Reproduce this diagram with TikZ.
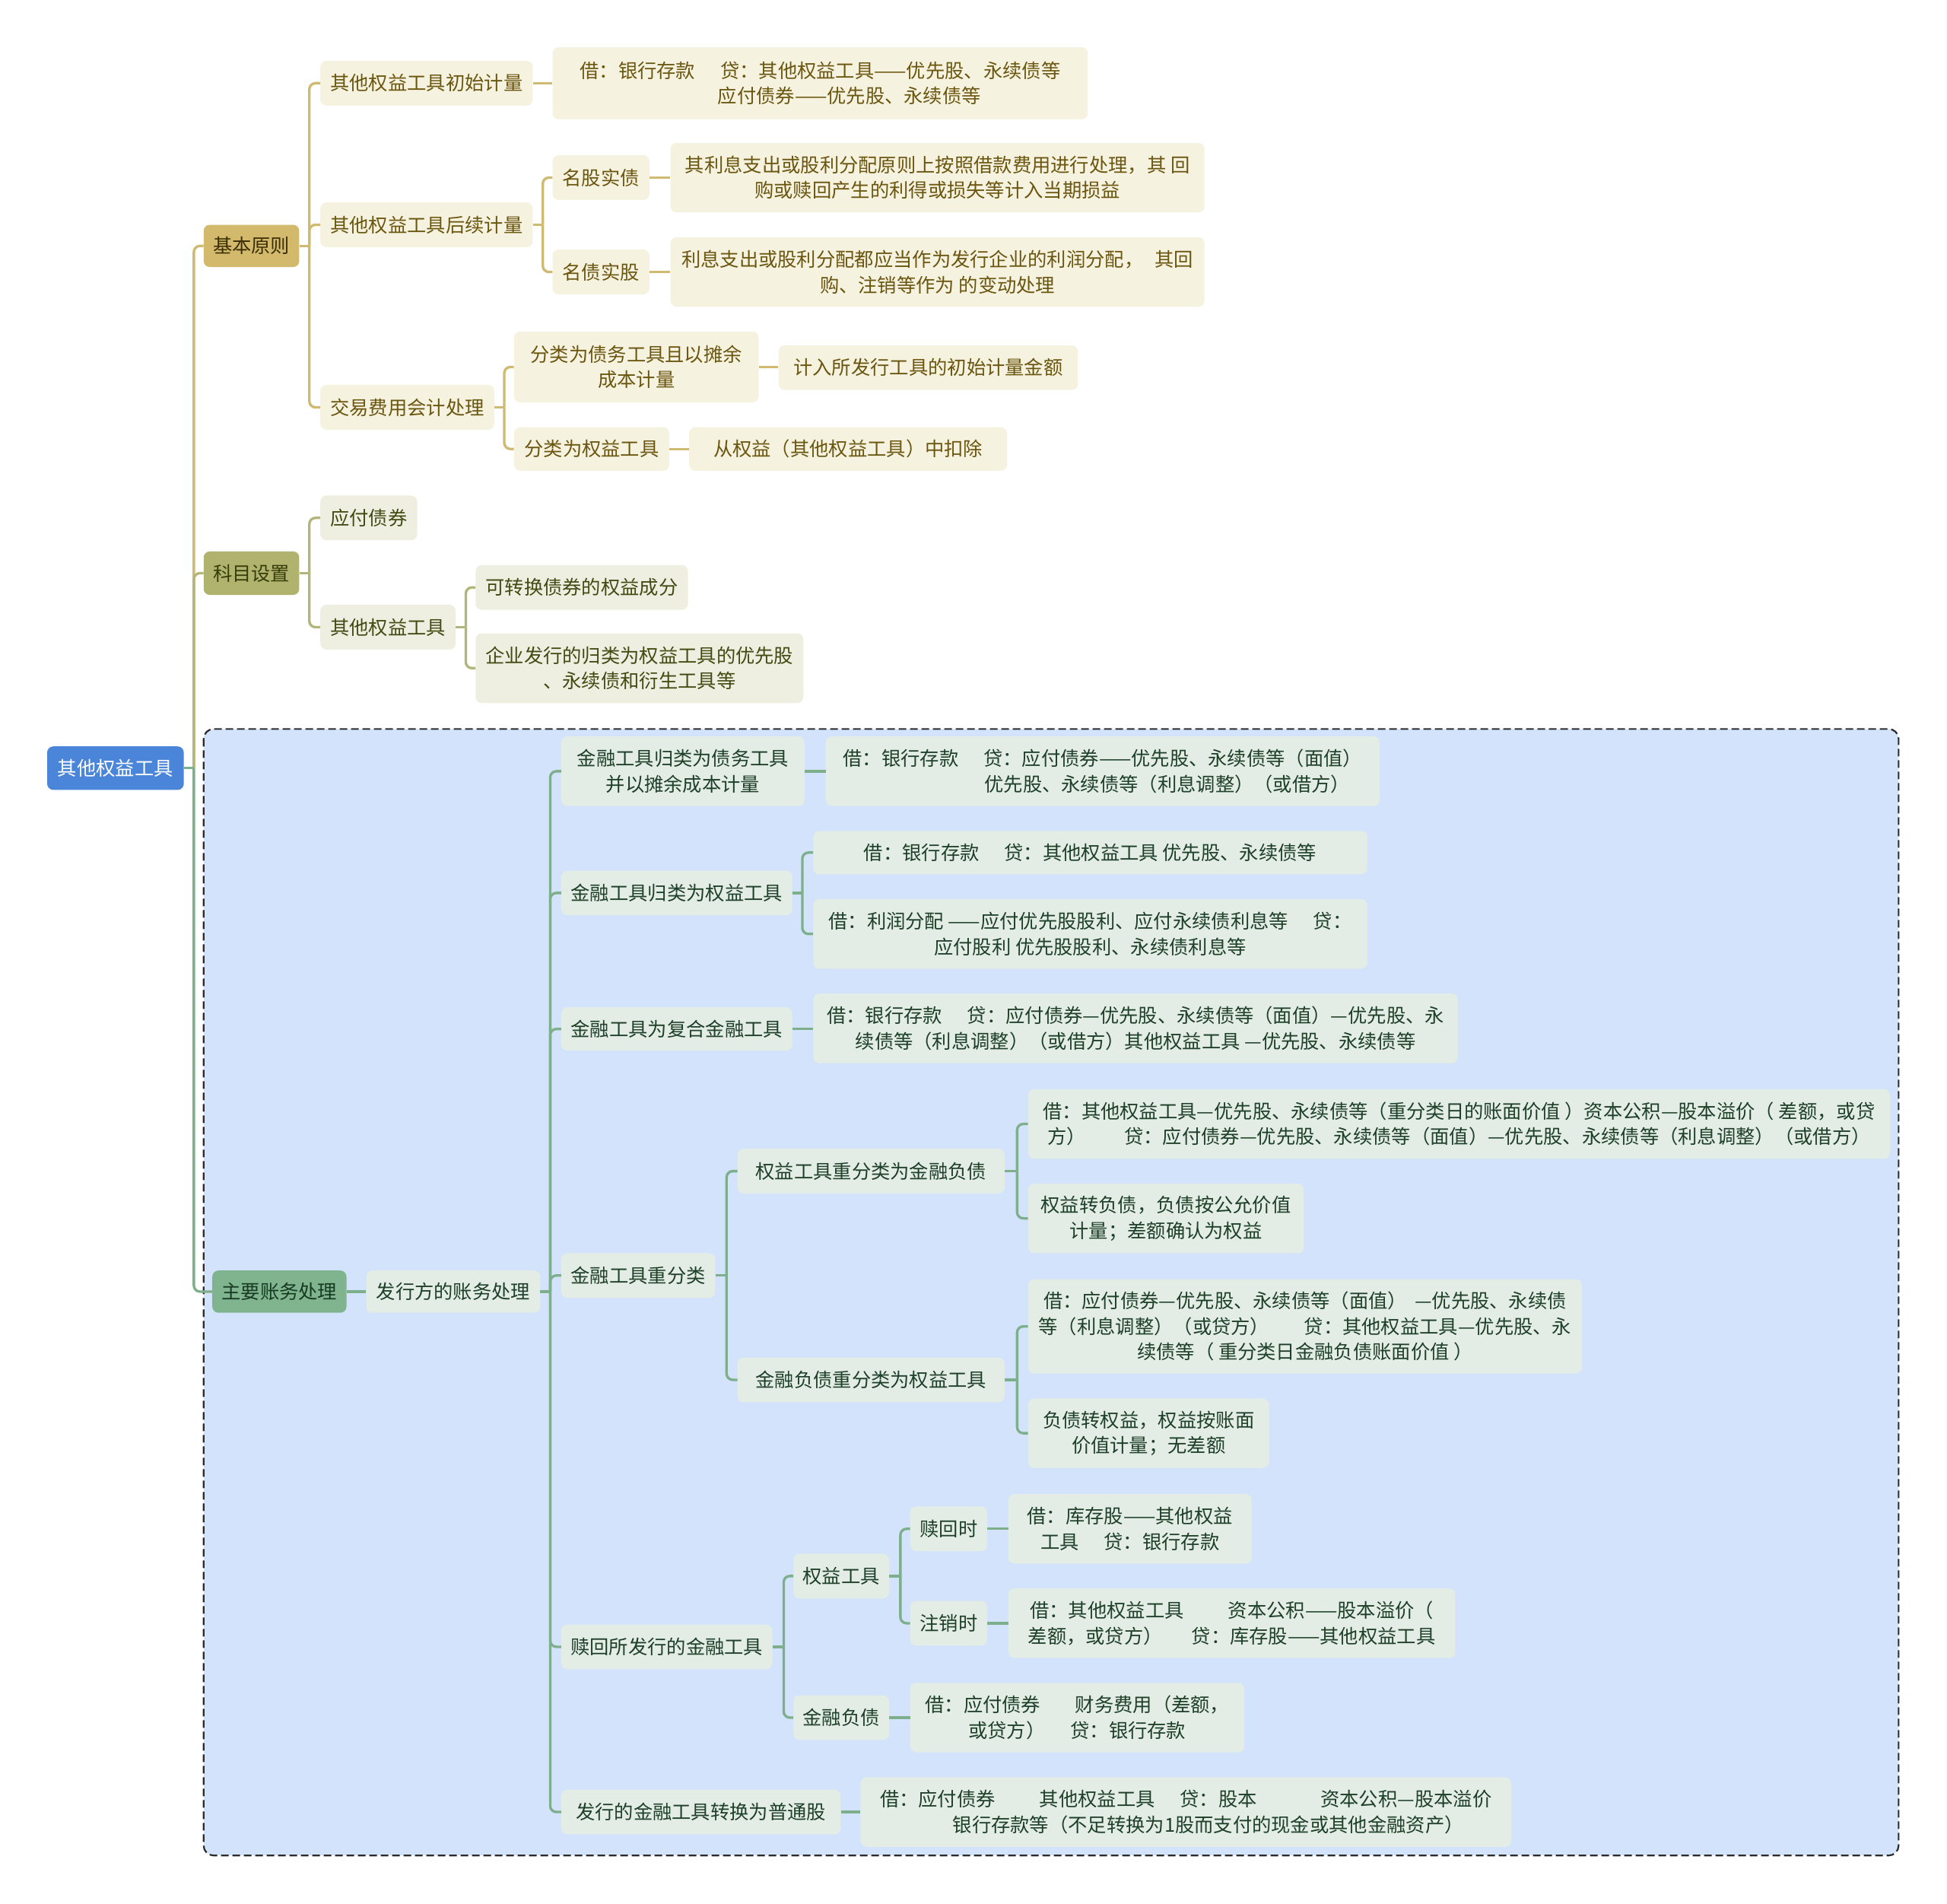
\documentclass[tikz,border=0pt]{standalone}
\usepackage{fontspec}
\setmainfont{Noto Sans CJK SC}
\definecolor{rootfill}{HTML}{4A85D9}
\definecolor{goldA}{HTML}{D3B96B}
\definecolor{goldAt}{HTML}{3A2E05}
\definecolor{goldB}{HTML}{F6F2E0}
\definecolor{goldBt}{HTML}{6A560F}
\definecolor{goldL}{HTML}{CFBA71}
\definecolor{oliveA}{HTML}{AFB36E}
\definecolor{oliveAt}{HTML}{363D08}
\definecolor{oliveB}{HTML}{EFEFE1}
\definecolor{oliveBt}{HTML}{434A12}
\definecolor{oliveL}{HTML}{B3B679}
\definecolor{greenA}{HTML}{7FB48F}
\definecolor{greenAt}{HTML}{173A22}
\definecolor{greenB}{HTML}{E3EDE6}
\definecolor{greenBt}{HTML}{1E3F28}
\definecolor{greenL}{HTML}{7DAF8D}
\definecolor{regionfill}{HTML}{D3E3FC}
\definecolor{regionline}{HTML}{2B2B2B}
\newcommand\mmfs{\fontsize{25.3pt}{33.5pt}\selectfont}
\newcommand\mmnode[7]{%
  \pgfmathsetmacro\mmcx{(#3+#5)/2}%
  \pgfmathsetmacro\mmcy{(#4+#6)/2}%
  \pgfmathsetmacro\mmw{(#5-#3)*1.6327}%
  \pgfmathsetmacro\mmh{(#6-#4)*1.6327}%
  \node[#2, minimum width=\mmw pt, minimum height=\mmh pt] (#1) at (\mmcx,\mmcy) {#7};%
}
\newcommand\mmstub[3]{\draw[#1] (#2.east) -- ++(#3,0);}
\newcommand\mmbranch[4]{\draw[#1] (#2.east) ++(#4,0) |- (#3.west);}
\newcommand\mmstraight[3]{\draw[#1] (#2.east) -- (#2.east -| #3.west);}
\tikzset{
  mmbase/.style={rounded corners=8pt, inner sep=0pt, align=center, font=\mmfs},
  rootst/.style={mmbase, fill=rootfill, text=white},
  goldone/.style={mmbase, fill=goldA, text=goldAt},
  goldtwo/.style={mmbase, fill=goldB, text=goldBt},
  oliveone/.style={mmbase, fill=oliveA, text=oliveAt},
  olivetwo/.style={mmbase, fill=oliveB, text=oliveBt},
  greenone/.style={mmbase, fill=greenA, text=greenAt},
  greentwo/.style={mmbase, fill=greenB, text=greenBt},
  goldln/.style={draw=goldL, line width=3.3pt, rounded corners=8pt},
  oliveln/.style={draw=oliveL, line width=3.3pt, rounded corners=8pt},
  greenln/.style={draw=greenL, line width=3.3pt, rounded corners=8pt},
}
\begin{document}
\begin{tikzpicture}[x=1.6327pt, y=-1.6327pt]
\fill[white] (0,0) rectangle (1568,1533);
\useasboundingbox (0,0) rectangle (1568,1533);
% dashed region
\draw[fill=regionfill, draw=regionline, line width=2.2pt, dash pattern=on 10pt off 5pt, rounded corners=13pt] (164,587) rectangle (1529,1494);

% level 0/1
\mmnode{root}{rootst}{38}{601}{148}{636}{其他权益工具}
\mmnode{jb}{goldone}{164}{181}{241}{215}{基本原则}
\mmnode{km}{oliveone}{164}{444}{241}{479}{科目设置}
\mmnode{zy}{greenone}{171}{1023}{279}{1057}{主要账务处理}

% gold branch
\mmnode{a1}{goldtwo}{258}{49}{429}{85}{其他权益工具初始计量}
\mmnode{a1c}{goldtwo}{445}{38}{876}{96}{借：银行存款\hspace{1.3em}贷：其他权益工具——优先股、永续债等\\\hspace*{77pt}应付债券——优先股、永续债等}
\mmnode{a2}{goldtwo}{258}{163}{429}{199}{其他权益工具后续计量}
\mmnode{a21}{goldtwo}{445}{125}{523}{161}{名股实债}
\mmnode{a21c}{goldtwo}{540}{115}{970}{171}{其利息支出或股利分配原则上按照借款费用进行处理，其 回\\购或赎回产生的利得或损失等计入当期损益}
\mmnode{a22}{goldtwo}{445}{201}{523}{237}{名债实股}
\mmnode{a22c}{goldtwo}{540}{191}{970}{247}{利息支出或股利分配都应当作为发行企业的利润分配，\hspace{0.6em}其回\\购、注销等作为 的变动处理}
\mmnode{a3}{goldtwo}{258}{310}{398}{346}{交易费用会计处理}
\mmnode{a31}{goldtwo}{414}{267}{611}{324}{分类为债务工具且以摊余\\成本计量}
\mmnode{a31c}{goldtwo}{627}{278}{868}{314}{计入所发行工具的初始计量金额}
\mmnode{a32}{goldtwo}{414}{344}{539}{379}{分类为权益工具}
\mmnode{a32c}{goldtwo}{555}{344}{811}{379}{从权益（其他权益工具）中扣除}

% olive branch
\mmnode{b1}{olivetwo}{258}{399}{336}{435}{应付债券}
\mmnode{b2}{olivetwo}{258}{487}{367}{523}{其他权益工具}
\mmnode{b21}{olivetwo}{383}{455}{554}{491}{可转换债券的权益成分}
\mmnode{b22}{olivetwo}{383}{510}{647}{566}{企业发行的归类为权益工具的优先股\\、永续债和衍生工具等}

% green branch
\mmnode{c0}{greentwo}{295}{1023}{435}{1057}{发行方的账务处理}
\mmnode{c1}{greentwo}{452}{593}{648}{649}{金融工具归类为债务工具\\并以摊余成本计量}
\mmnode{c1c}{greentwo}{665}{593}{1111}{649}{借：银行存款\hspace{1.3em}贷：应付债券——优先股、永续债等（面值）\\\hspace*{170pt}优先股、永续债等（利息调整）（或借方）}
\mmnode{c2}{greentwo}{452}{701}{638}{737}{金融工具归类为权益工具}
\mmnode{c21}{greentwo}{655}{669}{1101}{704}{借：银行存款\hspace{1.3em}贷：其他权益工具 优先股、永续债等}
\mmnode{c22}{greentwo}{655}{724}{1101}{780}{借：利润分配 ——应付优先股股利、应付永续债利息等\hspace{1.3em}贷：\\应付股利 优先股股利、永续债利息等}
\mmnode{c3}{greentwo}{452}{811}{638}{846}{金融工具为复合金融工具}
\mmnode{c3c}{greentwo}{655}{800}{1174}{856}{借：银行存款\hspace{1.3em}贷：应付债券—优先股、永续债等（面值）—优先股、永\\续债等（利息调整）（或借方）其他权益工具 —优先股、永续债等}
\mmnode{c4}{greentwo}{452}{1009}{576}{1045}{金融工具重分类}
\mmnode{c41}{greentwo}{594}{925}{809}{961}{权益工具重分类为金融负债}
\mmnode{c411}{greentwo}{828}{877}{1522}{933}{借：其他权益工具—优先股、永续债等（重分类日的账面价值 ）资本公积—股本溢价（ 差额，或贷\\方）\hspace{2em}贷：应付债券—优先股、永续债等（面值）—优先股、永续债等（利息调整）（或借方）}
\mmnode{c412}{greentwo}{828}{953}{1050}{1009}{权益转负债，负债按公允价值\\计量；差额确认为权益}
\mmnode{c42}{greentwo}{594}{1093}{809}{1129}{金融负债重分类为权益工具}
\mmnode{c421}{greentwo}{828}{1030}{1274}{1106}{借：应付债券—优先股、永续债等（面值）\hspace{0.4em}—优先股、永续债\\等（利息调整）（或贷方）\hspace{1.8em}贷：其他权益工具—优先股、永\\续债等（ 重分类日金融负债账面价值 ）}
\mmnode{c422}{greentwo}{828}{1126}{1022}{1182}{负债转权益，权益按账面\\价值计量；无差额}
\mmnode{c5}{greentwo}{452}{1308}{622}{1344}{赎回所发行的金融工具}
\mmnode{c51}{greentwo}{639}{1251}{716}{1287}{权益工具}
\mmnode{c511}{greentwo}{733}{1213}{795}{1249}{赎回时}
\mmnode{c511c}{greentwo}{812}{1203}{1008}{1259}{借：库存股——其他权益\\工具\hspace{1.3em}贷：银行存款}
\mmnode{c512}{greentwo}{733}{1289}{795}{1325}{注销时}
\mmnode{c512c}{greentwo}{812}{1279}{1172}{1335}{借：其他权益工具\hspace{2.3em}资本公积——股本溢价（\\差额，或贷方）\hspace{1.5em}贷：库存股——其他权益工具}
\mmnode{c52}{greentwo}{639}{1365}{716}{1401}{金融负债}
\mmnode{c52c}{greentwo}{733}{1355}{1002}{1411}{借：应付债券\hspace{1.8em}财务费用（差额，\\或贷方）\hspace{1.3em}贷：银行存款}
\mmnode{c6}{greentwo}{452}{1441}{677}{1477}{发行的金融工具转换为普通股}
\mmnode{c6c}{greentwo}{693}{1431}{1217}{1487}{借：应付债券\hspace{2.3em}其他权益工具\hspace{1.3em}贷：股本\hspace{3.3em}资本公积—股本溢价\\\hspace*{59pt}银行存款等（不足转换为1股而支付的现金或其他金融资产）}

% connectors: trunk
\mmbranch{goldln}{root}{jb}{8}
\mmbranch{oliveln}{root}{km}{8}
\mmbranch{greenln}{root}{zy}{8}
\mmstub{greenln}{root}{8}

% gold
\mmstub{goldln}{jb}{8}
\mmbranch{goldln}{jb}{a1}{8}
\mmbranch{goldln}{jb}{a2}{8}
\mmbranch{goldln}{jb}{a3}{8}
\mmstraight{goldln}{a1}{a1c}
\mmstub{goldln}{a2}{8}
\mmbranch{goldln}{a2}{a21}{8}
\mmbranch{goldln}{a2}{a22}{8}
\mmstraight{goldln}{a21}{a21c}
\mmstraight{goldln}{a22}{a22c}
\mmstub{goldln}{a3}{8}
\mmbranch{goldln}{a3}{a31}{8}
\mmbranch{goldln}{a3}{a32}{8}
\mmstraight{goldln}{a31}{a31c}
\mmstraight{goldln}{a32}{a32c}

% olive
\mmstub{oliveln}{km}{8}
\mmbranch{oliveln}{km}{b1}{8}
\mmbranch{oliveln}{km}{b2}{8}
\mmstub{oliveln}{b2}{8}
\mmbranch{oliveln}{b2}{b21}{8}
\mmbranch{oliveln}{b2}{b22}{8}

% green
\mmstraight{greenln}{zy}{c0}
\mmstub{greenln}{c0}{8}
\mmbranch{greenln}{c0}{c1}{8}
\mmbranch{greenln}{c0}{c2}{8}
\mmbranch{greenln}{c0}{c3}{8}
\mmbranch{greenln}{c0}{c4}{8}
\mmbranch{greenln}{c0}{c5}{8}
\mmbranch{greenln}{c0}{c6}{8}
\mmstraight{greenln}{c1}{c1c}
\mmstub{greenln}{c2}{8}
\mmbranch{greenln}{c2}{c21}{8}
\mmbranch{greenln}{c2}{c22}{8}
\mmstraight{greenln}{c3}{c3c}
\mmstub{greenln}{c4}{9}
\mmbranch{greenln}{c4}{c41}{9}
\mmbranch{greenln}{c4}{c42}{9}
\mmstub{greenln}{c41}{10}
\mmbranch{greenln}{c41}{c411}{10}
\mmbranch{greenln}{c41}{c412}{10}
\mmstub{greenln}{c42}{10}
\mmbranch{greenln}{c42}{c421}{10}
\mmbranch{greenln}{c42}{c422}{10}
\mmstub{greenln}{c5}{9}
\mmbranch{greenln}{c5}{c51}{9}
\mmbranch{greenln}{c5}{c52}{9}
\mmstub{greenln}{c51}{9}
\mmbranch{greenln}{c51}{c511}{9}
\mmbranch{greenln}{c51}{c512}{9}
\mmstraight{greenln}{c511}{c511c}
\mmstraight{greenln}{c512}{c512c}
\mmstraight{greenln}{c52}{c52c}
\mmstraight{greenln}{c6}{c6c}
\end{tikzpicture}
\end{document}
